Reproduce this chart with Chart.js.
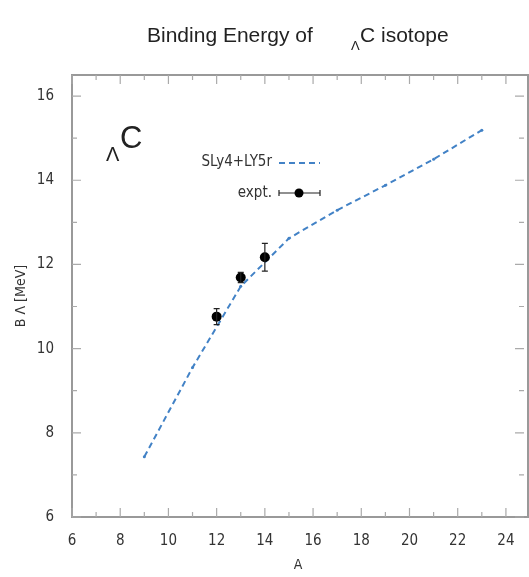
<!DOCTYPE html>
<html>
<head>
<meta charset="utf-8">
<script src="https://cdn.jsdelivr.net/npm/chart.js@4.4.0/dist/chart.umd.min.js"></script>
<style>
  html, body { margin: 0; padding: 0; background: #fff; }
  #wrap { width: 529px; height: 577px; }
</style>
</head>
<body>
<div id="wrap"><canvas id="beChart" width="529" height="577"></canvas></div>
<script>
// SLy4+LY5r calculation
var calcA = [9, 11, 13, 15, 17, 19, 21, 23];
var calcB = [7.43, 9.55, 11.48, 12.62, 13.29, 13.88, 14.5, 15.19];

// experimental values
var exptA = [12, 13, 14];
var exptB = [10.76, 11.69, 12.17];
var exptErr = [0.19, 0.12, 0.33];

var xTicksMin = 6, xTicksMax = 24.75;
var yTicksMin = 6, yTicksMax = 16.5;

var condensed = "'DejaVu Sans Condensed', 'Liberation Sans Narrow', 'DejaVu Sans', sans-serif";
var lineBlue = '#4282c6';

function toXY(xs, ys) {
    return xs.map(function (x, i) { return { x: x, y: ys[i] }; });
}

// frame + inward ticks, error bars, legend and labels
var decorPlugin = {
    id: 'decor',
    afterDatasetsDraw: function (chart) {
        var ctx = chart.ctx;
        var xs = chart.scales.x, ys = chart.scales.y;

        // error bars
        ctx.save();
        ctx.strokeStyle = '#222';
        ctx.lineWidth = 1.2;
        exptA.forEach(function (x, i) {
            var px = xs.getPixelForValue(x);
            var top = ys.getPixelForValue(exptB[i] + exptErr[i]);
            var bot = ys.getPixelForValue(exptB[i] - exptErr[i]);
            ctx.beginPath();
            ctx.moveTo(px, top); ctx.lineTo(px, bot);
            ctx.moveTo(px - 3, top); ctx.lineTo(px + 3, top);
            ctx.moveTo(px - 3, bot); ctx.lineTo(px + 3, bot);
            ctx.stroke();
        });
        ctx.restore();
    },
    afterDraw: function (chart) {
        var ctx = chart.ctx;
        var xs = chart.scales.x, ys = chart.scales.y;
        var a = chart.chartArea;
        ctx.save();

        // frame
        ctx.strokeStyle = '#999';
        ctx.lineWidth = 2;
        ctx.strokeRect(a.left, a.top, a.right - a.left + 4, a.bottom - a.top);

        // inward ticks
        ctx.strokeStyle = '#aaa';
        ctx.lineWidth = 1.2;
        xs.ticks.forEach(function (t) {
            var px = xs.getPixelForValue(t.value);
            var len = t.value % 2 === 0 ? 9 : 5;
            ctx.beginPath();
            ctx.moveTo(px, a.bottom); ctx.lineTo(px, a.bottom - len);
            ctx.moveTo(px, a.top); ctx.lineTo(px, a.top + len);
            ctx.stroke();
        });
        ys.ticks.forEach(function (t) {
            var py = ys.getPixelForValue(t.value);
            var len = t.value % 2 === 0 ? 9 : 5;
            ctx.beginPath();
            ctx.moveTo(a.left, py); ctx.lineTo(a.left + len, py);
            ctx.moveTo(a.right, py); ctx.lineTo(a.right - len, py);
            ctx.stroke();
        });

        // title
        ctx.fillStyle = '#222';
        ctx.textBaseline = 'alphabetic';
        ctx.textAlign = 'left';
        ctx.font = "21px 'Liberation Sans', Arial, sans-serif";
        ctx.fillText('Binding Energy of', 147, 42);
        ctx.font = "13px 'Liberation Sans', Arial, sans-serif";
        ctx.fillText('\u039B', 351, 50);
        ctx.font = "21px 'Liberation Sans', Arial, sans-serif";
        ctx.fillText('C isotope', 360, 42);

        // nucleus label inside plot
        ctx.font = "20px 'Liberation Sans', Arial, sans-serif";
        ctx.fillText('\u039B', 106, 161);
        ctx.font = "31px 'Liberation Sans', Arial, sans-serif";
        ctx.fillText('C', 120, 148);

        // legend
        var labels = chart.data.datasets.map(function (d) { return d.label; });
        ctx.font = "15px " + condensed;
        ctx.fillStyle = '#333';
        ctx.textAlign = 'right';
        ctx.textBaseline = 'middle';
        ctx.fillText(labels[0], 272, 162);
        ctx.fillText(labels[1], 272, 193);

        ctx.strokeStyle = lineBlue;
        ctx.lineWidth = 2;
        ctx.setLineDash([6, 4]);
        ctx.beginPath();
        ctx.moveTo(279, 163); ctx.lineTo(320, 163);
        ctx.stroke();
        ctx.setLineDash([]);

        ctx.strokeStyle = '#222';
        ctx.lineWidth = 1.2;
        ctx.beginPath();
        ctx.moveTo(279, 193); ctx.lineTo(320, 193);
        ctx.moveTo(279, 190); ctx.lineTo(279, 196);
        ctx.moveTo(320, 190); ctx.lineTo(320, 196);
        ctx.stroke();
        ctx.fillStyle = '#000';
        ctx.beginPath();
        ctx.arc(299, 193, 4.5, 0, Math.PI * 2);
        ctx.fill();

        ctx.restore();
    }
};

var beChart = new Chart(document.getElementById('beChart').getContext('2d'), {
    type: 'scatter',
    data: {
        datasets: [{
            label: 'SLy4+LY5r',
            data: toXY(calcA, calcB),
            showLine: true,
            borderColor: lineBlue,
            backgroundColor: lineBlue,
            borderWidth: 2,
            borderDash: [6, 4],
            pointRadius: 1.5,
            pointBorderWidth: 0,
            order: 2
        }, {
            label: 'expt.',
            data: toXY(exptA, exptB),
            showLine: false,
            backgroundColor: '#000',
            borderColor: '#000',
            pointRadius: 5,
            pointBorderWidth: 0,
            order: 1
        }]
    },
    options: {
        responsive: false,
        animation: false,
        layout: { padding: { top: 75, right: 0, left: 0, bottom: 0 } },
        plugins: {
            legend: { display: false },
            tooltip: { enabled: false }
        },
        scales: {
            x: {
                type: 'linear',
                min: xTicksMin,
                max: xTicksMax,
                grid: { display: false },
                border: { display: false },
                ticks: {
                    stepSize: 1,
                    includeBounds: false,
                    autoSkip: false,
                    maxRotation: 0,
                    padding: 7,
                    color: '#333',
                    font: { family: condensed, size: 15 },
                    callback: function (v) { return v % 2 === 0 ? v : ''; }
                },
                title: {
                    display: true,
                    text: 'A',
                    color: '#333',
                    font: { family: condensed, size: 14 },
                    padding: { top: 4, bottom: 3 }
                },
                afterFit: function (s) { s.height = 60; }
            },
            y: {
                type: 'linear',
                min: yTicksMin,
                max: yTicksMax,
                grid: { display: false },
                border: { display: false },
                ticks: {
                    stepSize: 1,
                    includeBounds: false,
                    autoSkip: false,
                    padding: 10,
                    color: '#333',
                    font: { family: condensed, size: 15 },
                    callback: function (v) { return v % 2 === 0 ? v : ''; }
                },
                title: {
                    display: true,
                    text: 'B \u039B [MeV]',
                    color: '#333',
                    font: { family: condensed, size: 14 },
                    padding: { top: 13, bottom: 0 }
                },
                afterFit: function (s) { s.width = 72; }
            }
        }
    },
    plugins: [decorPlugin]
});
</script>
</body>
</html>
